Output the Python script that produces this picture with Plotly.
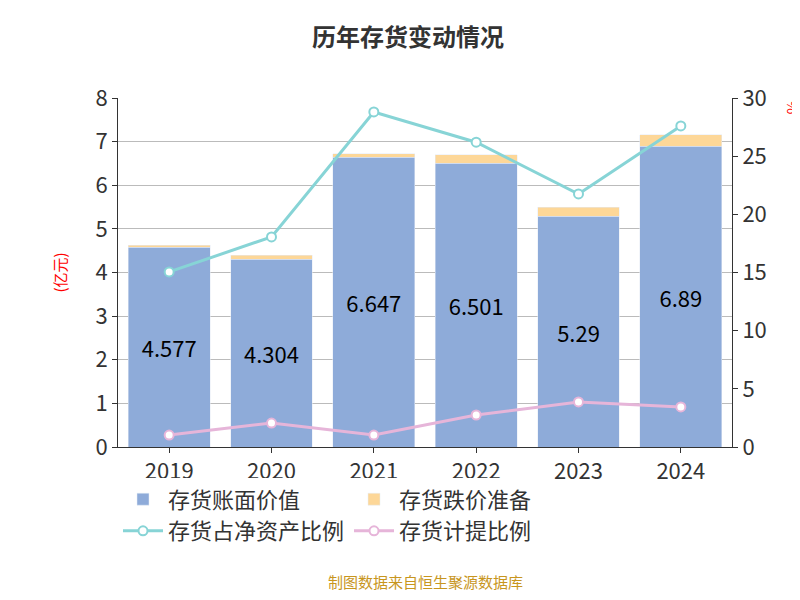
import plotly.graph_objects as go

years = ["2019", "2020", "2021", "2022", "2023", "2024"]
book = [4.577, 4.304, 6.647, 6.501, 5.29, 6.89]
reserve = [0.05, 0.09, 0.07, 0.2, 0.21, 0.27]
ratio_net = [15.05, 18.06, 28.8, 26.2, 21.75, 27.6]
ratio_prov = [1.03, 2.06, 1.03, 2.75, 3.87, 3.44]

fig = go.Figure()
fig.add_bar(x=years, y=book, name="存货账面价值", marker_color="#8eabd9",
            text=[str(v) for v in book], textposition="inside", insidetextanchor="middle",
            textfont=dict(size=22, color="black"), width=0.8)
fig.add_bar(x=years, y=reserve, name="存货跌价准备", marker_color="#fdd798", width=0.8)
fig.add_scatter(x=years, y=ratio_net, name="存货占净资产比例", yaxis="y2", mode="lines+markers",
                line=dict(color="#87d4d6", width=3),
                marker=dict(size=9, color="white", line=dict(color="#87d4d6", width=2)))
fig.add_scatter(x=years, y=ratio_prov, name="存货计提比例", yaxis="y2", mode="lines+markers",
                line=dict(color="#e6b5d9", width=3),
                marker=dict(size=9, color="white", line=dict(color="#e6b5d9", width=2)))

fig.update_layout(
    width=800, height=600, barmode="stack", plot_bgcolor="white", paper_bgcolor="white",
    font=dict(family="Noto Sans CJK SC", size=20, color="#333"),
    title=dict(text="<b>历年存货变动情况</b>", x=0.5, y=0.965, xanchor="center", font=dict(size=24, color="#333")),
    margin=dict(l=110, r=76, t=90, b=161, autoexpand=False),
    bargap=0.2,
    xaxis=dict(showline=True, linecolor="#333", ticks="outside", tickcolor="#333", tickfont=dict(size=22),
               automargin=False),
    yaxis=dict(range=[0, 8], dtick=1, showgrid=True, gridcolor="#bbb", showline=True, linecolor="#333",
               ticks="outside", tickcolor="#333", tickfont=dict(size=22), automargin=False,
               title=dict(text="(亿元)", font=dict(color="red", size=15), standoff=25)),
    yaxis2=dict(range=[0, 30], dtick=5, overlaying="y", side="right", showgrid=False, showline=True,
                linecolor="#333", ticks="outside", tickcolor="#333", tickfont=dict(size=22), automargin=False),
    legend=dict(orientation="h", x=0.0, y=-0.09, xanchor="left", yanchor="top", traceorder="normal",
                font=dict(size=22), itemwidth=40),
)
fig.add_annotation(text="%", x=798, y=90, xref="paper", yref="paper", showarrow=False,
                   font=dict(size=15, color="red"), textangle=90)
fig.layout.annotations = []
fig.add_annotation(text="%", x=1.08, y=1.0, xref="paper", yref="paper", xanchor="left", yanchor="top",
                   showarrow=False, font=dict(size=15, color="red"), textangle=90)
fig.add_annotation(text="制图数据来自恒生聚源数据库", x=0.5, y=0.01, xref="paper", yref="paper",
                   xanchor="center", yanchor="bottom", yshift=-150, showarrow=False,
                   font=dict(size=15, color="#c8961e"))
fig.write_html("out.html")
